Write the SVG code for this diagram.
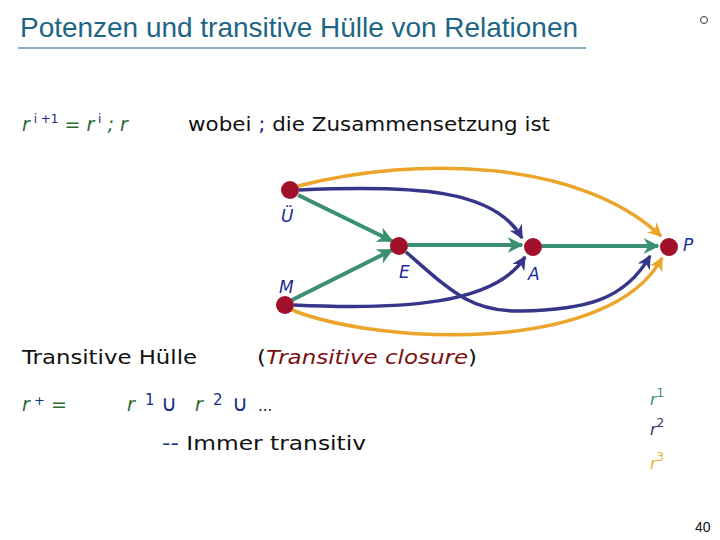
<svg xmlns="http://www.w3.org/2000/svg" width="720" height="540" viewBox="0 0 720 540">
<style>
.t{font-family:"DejaVu Sans","Liberation Sans",sans-serif;}
.g{fill:#2e6b2e;font-style:italic;}
.b{fill:#1a2a8a;}
.lab{font-family:"DejaVu Sans",sans-serif;font-style:italic;font-size:17px;fill:#1a2a9a;}
.node{fill:#a0102a;}
.eg{stroke:#3a9070;stroke-width:4;fill:none;}
.eb{stroke:#35358a;stroke-width:3.5;fill:none;}
.ey{stroke:#eaa52a;stroke-width:3.5;fill:none;}
</style>
<defs>
<marker id="ag" viewBox="0 0 10 10" refX="9" refY="5" markerWidth="4" markerHeight="4" orient="auto" markerUnits="strokeWidth"><path d="M0,0 L10,5 L0,10 L3,5 z" fill="#3a9070"/></marker>
<marker id="ab" viewBox="0 0 10 10" refX="9" refY="5" markerWidth="4" markerHeight="4" orient="auto" markerUnits="strokeWidth"><path d="M0,0 L10,5 L0,10 L3,5 z" fill="#35358a"/></marker>
<marker id="ay" viewBox="0 0 10 10" refX="9" refY="5" markerWidth="4" markerHeight="4" orient="auto" markerUnits="strokeWidth"><path d="M0,0 L10,5 L0,10 L3,5 z" fill="#eaa52a"/></marker>
</defs>
<rect width="720" height="540" fill="#fff"/>
<text x="20" y="37" font-family="Liberation Sans,Arial,sans-serif" font-size="28" fill="#1d6585" textLength="558" lengthAdjust="spacingAndGlyphs">Potenzen und transitive Hülle von Relationen</text>
<line x1="18" y1="48" x2="586" y2="48" stroke="#1d6585" stroke-width="1.2"/>
<circle cx="704" cy="20" r="3.5" fill="none" stroke="#333" stroke-width="1"/>
<text class="t" x="22" y="131" font-size="19"><tspan class="g">r</tspan><tspan class="b" font-size="12" dy="-8"> i +1</tspan><tspan class="g" dy="8"> = r</tspan><tspan class="b" font-size="12" dy="-8"> i</tspan><tspan class="g" dy="8"> ; r</tspan></text>
<text class="t" x="188" y="131" font-size="20" fill="#111" textLength="362" lengthAdjust="spacingAndGlyphs">wobei <tspan class="b">;</tspan> die Zusammensetzung ist</text>
<g id="connectors">
<path class="eg" d="M298,195 L392,241" marker-end="url(#ag)"/>
<path class="eg" d="M292,300 L392,250" marker-end="url(#ag)"/>
<path class="eg" d="M408,245 L522,245" marker-end="url(#ag)"/>
<path class="eg" d="M542,246 L658,246" marker-end="url(#ag)"/>
<path class="eb" d="M299,190 C420,185 495,190 522,238" marker-end="url(#ab)"/>
<path class="eb" d="M294,305 C400,310 495,305 525,257" marker-end="url(#ab)"/>
<path class="eb" d="M406,252 C450,290 470,312 520,311 C585,310 625,300 650,256" marker-end="url(#ab)"/>
<path class="ey" d="M298,186 C420,155 580,160 661,236" marker-end="url(#ay)"/>
<path class="ey" d="M292,310 C380,345 610,355 662,258" marker-end="url(#ay)"/>
</g>
<g id="node-U"><circle class="node" cx="290" cy="190" r="9"/><text class="lab" x="281" y="222">Ü</text></g>
<g id="node-E"><circle class="node" cx="399" cy="246" r="9"/><text class="lab" x="399" y="278">E</text></g>
<g id="node-A"><circle class="node" cx="533" cy="247" r="9"/><text class="lab" x="528" y="280">A</text></g>
<g id="node-P"><circle class="node" cx="669" cy="247" r="9"/><text class="lab" x="683" y="251">P</text></g>
<g id="node-M"><circle class="node" cx="285" cy="305" r="9"/><text class="lab" x="279" y="293">M</text></g>
<text class="t" x="22" y="364" font-size="20" fill="#111" textLength="175" lengthAdjust="spacingAndGlyphs">Transitive Hülle</text>
<text class="t" x="257" y="364" font-size="20" fill="#111" textLength="220" lengthAdjust="spacingAndGlyphs">(<tspan font-style="italic" fill="#7a1010">Transitive closure</tspan>)</text>
<text class="t" x="22" y="411" font-size="19"><tspan class="g">r</tspan><tspan class="b" font-size="13" dy="-6"> +</tspan><tspan class="g" dy="6"> =</tspan></text>
<g class="t" font-size="19">
<text class="g" x="127" y="411">r</text>
<text class="b" x="145" y="405" font-size="15">1</text>
<text class="b" x="161" y="411" font-size="22">∪</text>
<text class="g" x="195" y="411">r</text>
<text class="b" x="213" y="405" font-size="15">2</text>
<text class="b" x="232" y="411" font-size="22">∪</text>
<text fill="#111" x="258" y="411" font-size="15">...</text>
</g>
<text class="t" x="162" y="450" font-size="20" fill="#111" textLength="204" lengthAdjust="spacingAndGlyphs"><tspan class="b">--</tspan> Immer transitiv</text>
<text class="t" x="650" y="405" font-size="16" fill="#3a9070"><tspan font-style="italic">r</tspan><tspan font-size="12" dy="-8">1</tspan></text>
<text class="t" x="650" y="435" font-size="16" fill="#35355a"><tspan font-style="italic">r</tspan><tspan font-size="12" dy="-8">2</tspan></text>
<text class="t" x="650" y="469" font-size="16" fill="#e8b030"><tspan font-style="italic">r</tspan><tspan font-size="12" dy="-8">3</tspan></text>
<text x="695" y="532" font-family="Liberation Sans,Arial,sans-serif" font-size="14" fill="#111">40</text>
</svg>
